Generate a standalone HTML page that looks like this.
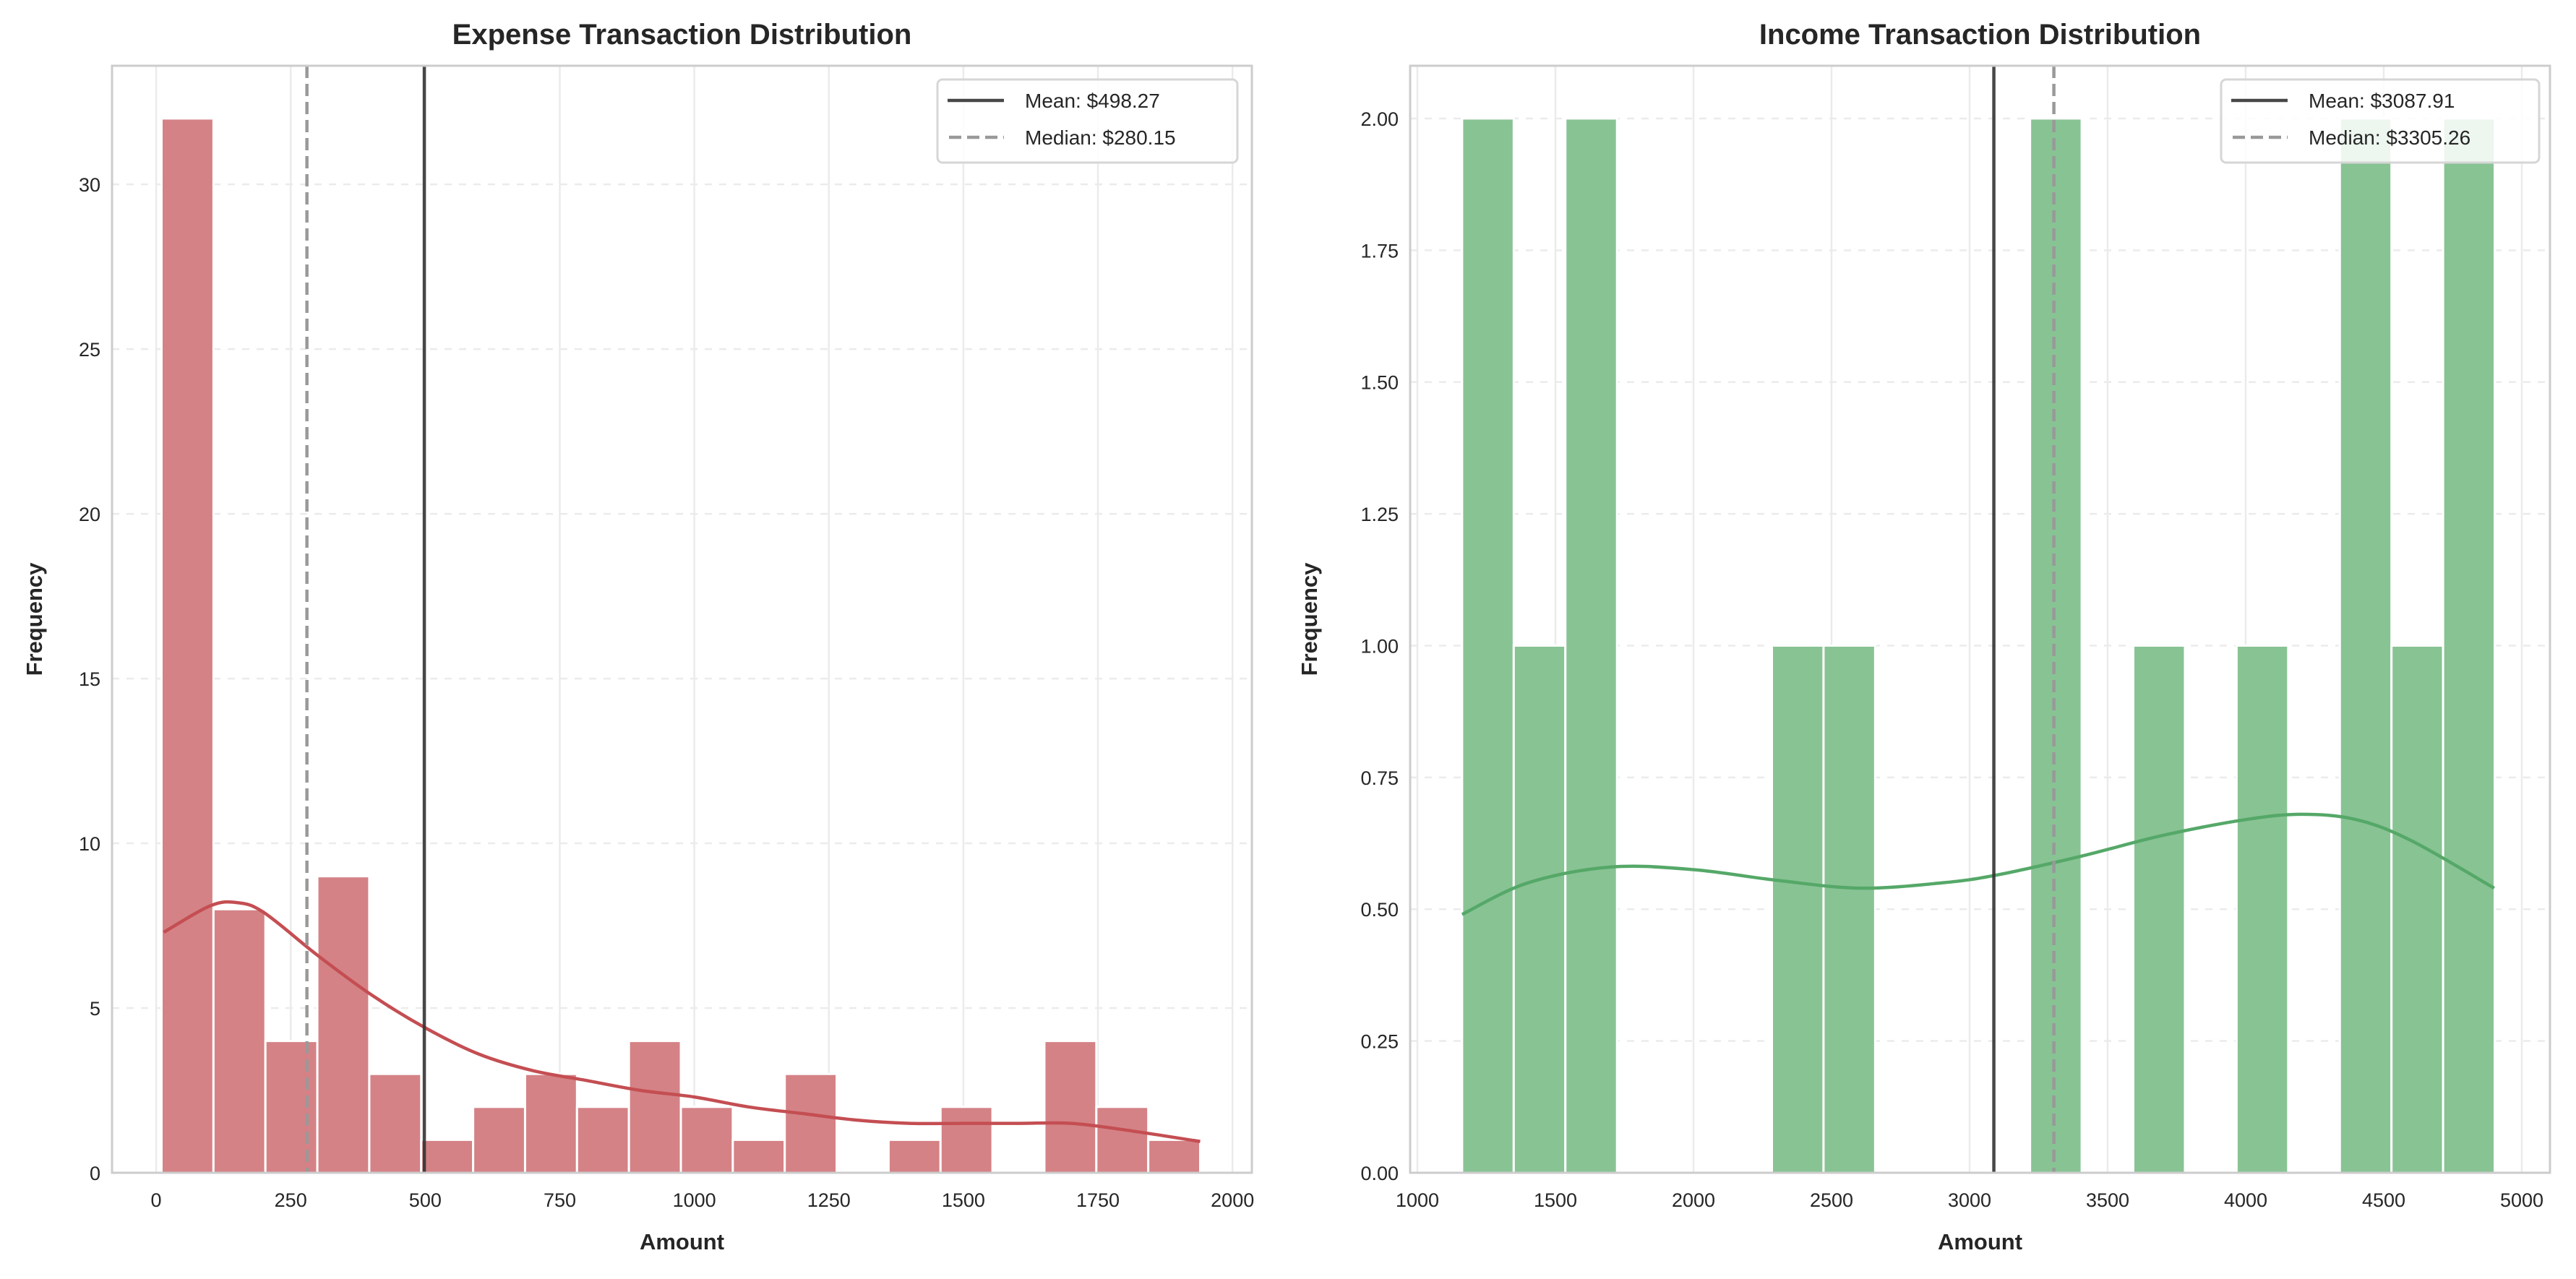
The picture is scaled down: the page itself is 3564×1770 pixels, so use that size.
<!DOCTYPE html>
<html><head><meta charset="utf-8"><style>
html,body{margin:0;padding:0;background:#fff;}
svg{display:block;font-family:"Liberation Sans",sans-serif;}
</style></head><body>
<svg id="chart" width="3564" height="1770" viewBox="0 0 3564 1770"></svg>
<script>
// ---- Expense data ----
const expenseCounts = [32,8,4,9,3,1,2,3,2,4,2,1,3,0,1,2,0,4,2,1];
const expenseMin = 10, expenseMax = 1940;
const expenseKdeX = [14,100,150,200,300,400,500,600,700,800,900,1000,1100,1200,1300,1400,1500,1600,1700,1800,1940];
const expenseKdeY = [7.3,8.1,8.2,7.9,6.6,5.4,4.4,3.6,3.1,2.8,2.5,2.3,2.0,1.8,1.6,1.5,1.5,1.5,1.5,1.3,0.95];
const expenseXTicks = [0,250,500,750,1000,1250,1500,1750,2000];
const expenseYTicks = [0,5,10,15,20,25,30];
const expenseMean = 498.27, expenseMedian = 280.15;
// ---- Income data ----
const incomeCounts = [2,1,2,0,0,0,1,1,0,0,0,2,0,1,0,1,0,2,1,2];
const incomeMin = 1162, incomeMax = 4902;
const incomeKdeX = [1162,1400,1700,2000,2300,2600,2900,3100,3400,3700,4000,4200,4400,4600,4900];
const incomeKdeY = [0.49,0.55,0.58,0.575,0.555,0.54,0.55,0.565,0.6,0.64,0.67,0.68,0.67,0.63,0.54];
const incomeXTicks = [1000,1500,2000,2500,3000,3500,4000,4500,5000];
const incomeYTicks = [0,0.25,0.5,0.75,1.0,1.25,1.5,1.75,2.0];
const incomeMean = 3087.91, incomeMedian = 3305.26;

const NS="http://www.w3.org/2000/svg";
const svg=document.getElementById('chart');
function mk(tag,attrs,parent){const e=document.createElementNS(NS,tag);for(const k in attrs)e.setAttribute(k,attrs[k]);(parent||svg).appendChild(e);return e;}

function smoothPath(pts){
  let d='M'+pts[0][0].toFixed(1)+','+pts[0][1].toFixed(1);
  for(let i=0;i<pts.length-1;i++){
    const p0=pts[i-1]||pts[i],p1=pts[i],p2=pts[i+1],p3=pts[i+2]||p2;
    const c1=[p1[0]+(p2[0]-p0[0])/6,p1[1]+(p2[1]-p0[1])/6];
    const c2=[p2[0]-(p3[0]-p1[0])/6,p2[1]-(p3[1]-p1[1])/6];
    d+=`C${c1[0].toFixed(1)},${c1[1].toFixed(1)} ${c2[0].toFixed(1)},${c2[1].toFixed(1)} ${p2[0].toFixed(1)},${p2[1].toFixed(1)}`;
  }
  return d;
}

function panel(o){
  const g=mk('g',{});
  
  
  const L=o.left,R=o.right,T=91,B=1623;
  const xs=v=>L+(v-o.xlim[0])/(o.xlim[1]-o.xlim[0])*(R-L);
  const ys=v=>B-(v-0)/(o.ylim)*(B-T);
  o.xticks.forEach(t=>{const x=xs(t);const l=mk('line',{x1:x,x2:x,y1:T,y2:B,stroke:'#ebebeb','stroke-width':2.5},g);
    });
  o.yticks.forEach(t=>{const y=ys(t);const l=mk('line',{x1:L,x2:R,y1:y,y2:y,stroke:'#ebebeb','stroke-width':2.5,'stroke-dasharray':'10 10'},g);
    });
  const n=o.counts.length,w=(o.max-o.min)/n;
  o.counts.forEach((c,i)=>{if(!c)return;const x0=xs(o.min+i*w),x1=xs(o.min+(i+1)*w);
    const r=mk('rect',{x:x0,y:ys(c),width:x1-x0,height:ys(0)-ys(c),fill:o.barFill,stroke:'#fff','stroke-width':3},g);
    });
  const pts=o.kx.map((x,i)=>[xs(x),ys(o.ky[i])]);
  const p=mk('path',{d:smoothPath(pts),fill:'none',stroke:o.lineColor,'stroke-width':4.5,'stroke-linejoin':'round'},g);
  
  const m=mk('line',{x1:xs(o.mean),x2:xs(o.mean),y1:T,y2:B,stroke:'#333','stroke-opacity':0.9,'stroke-width':4.5},g);
  
  const md=mk('line',{x1:xs(o.median),x2:xs(o.median),y1:T,y2:B,stroke:'#999','stroke-width':4.5,'stroke-dasharray':'17 8'},g);
  
  const f=mk('rect',{x:L,y:T,width:R-L,height:B-T,fill:'none',stroke:'#cccccc','stroke-width':3},g);
  
  o.xticks.forEach(t=>{const e=mk('text',{x:xs(t),y:1670,'text-anchor':'middle','font-size':27,fill:'#262626'},g);e.textContent=String(t);
    });
  o.yticks.forEach(t=>{const e=mk('text',{x:L-16,y:ys(t)+10,'text-anchor':'end','font-size':27,fill:'#262626'},g);e.textContent=o.yfmt(t);
    });
  const ti=mk('text',{x:(L+R)/2,y:61,'text-anchor':'middle','font-size':40,'font-weight':'bold',fill:'#262626'},g);ti.textContent=o.title;
  
  const xl=mk('text',{x:(L+R)/2,y:1729,'text-anchor':'middle','font-size':31,'font-weight':'bold',fill:'#262626'},g);xl.textContent='Amount';
  
  const yl=mk('text',{x:0,y:0,'text-anchor':'middle','font-size':31,'font-weight':'bold',fill:'#262626',transform:`translate(${o.ylabX},${(T+B)/2}) rotate(-90)`},g);yl.textContent='Frequency';
  
  const lg=mk('g',{},g);
  
  mk('rect',{x:o.legX,y:110,width:o.legW,height:115,rx:7,fill:'#fff','fill-opacity':0.85,stroke:'#d6d6d6','stroke-width':3},lg);
  mk('line',{x1:o.legX+14,x2:o.legX+92,y1:139,y2:139,stroke:'#333','stroke-opacity':0.9,'stroke-width':4.5},lg);
  mk('line',{x1:o.legX+16,x2:o.legX+92,y1:190,y2:190,stroke:'#999','stroke-width':4.5,'stroke-dasharray':'17 8'},lg);
  const t1=mk('text',{x:o.legX+121,y:149,'font-size':28,fill:'#262626'},lg);t1.textContent='Mean: $'+o.mean.toFixed(2);
  
  const t2=mk('text',{x:o.legX+121,y:200,'font-size':28,fill:'#262626'},lg);t2.textContent='Median: $'+o.median.toFixed(2);
  
}
panel({name:'expense-panel',left:155,right:1732,xlim:[-82,2036],ylim:33.6,counts:expenseCounts,min:expenseMin,max:expenseMax,
  kx:expenseKdeX,ky:expenseKdeY,xticks:expenseXTicks,yticks:expenseYTicks,yfmt:t=>String(t),mean:expenseMean,median:expenseMedian,
  barFill:'#d48286',lineColor:'#c44e52',title:'Expense Transaction Distribution',ylabX:58,legX:1297,legW:415});
panel({name:'income-panel',left:1951,right:3528,xlim:[1000+(1951-1961)/0.382,1000+(3528-1961)/0.382],ylim:2.1,counts:incomeCounts,min:incomeMin,max:incomeMax,
  kx:incomeKdeX,ky:incomeKdeY,xticks:incomeXTicks,yticks:incomeYTicks,yfmt:t=>t.toFixed(2),mean:incomeMean,median:incomeMedian,
  barFill:'#88c394',lineColor:'#55a868',title:'Income Transaction Distribution',ylabX:1822,legX:3073,legW:440});
</script>
</body></html>
